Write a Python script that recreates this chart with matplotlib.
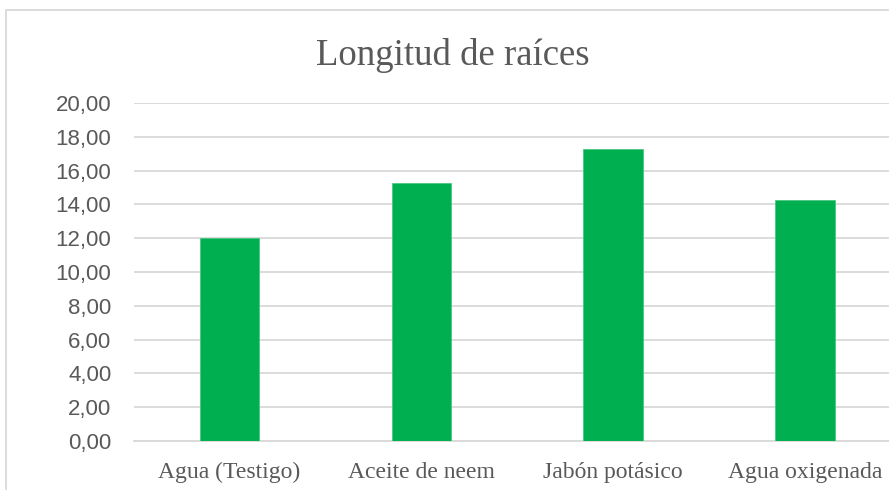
import matplotlib.pyplot as plt
from matplotlib.patches import Rectangle

categorias = ['Agua (Testigo)', 'Aceite de neem', 'Jabón potásico', 'Agua oxigenada']
longitud = [12.00, 15.25, 17.28, 14.25]
yticks = [0, 2, 4, 6, 8, 10, 12, 14, 16, 18, 20]

gris = '#595959'
linea = '#d9d9d9'
verde = '#00b050'

fig = plt.figure(figsize=(8.89, 4.90), dpi=100)

# borde del gráfico (recortado a la derecha y abajo)
fig.patches.append(Rectangle((6 / 889, -0.2), 1.2, 1.2 - 10 / 490,
                             transform=fig.transFigure, fill=False,
                             edgecolor=linea, linewidth=1.3))

ax = fig.add_axes([133.5 / 889, 49 / 490, 767.5 / 889, 338 / 490])
x = range(len(categorias))
ax.bar(x, longitud, width=0.31, color=verde, edgecolor='#3fc47a', linewidth=0.5, zorder=3)

ax.set_xlim(-0.5, 3.5)
ax.set_ylim(0, 20)
ax.set_yticks(yticks)
ax.set_yticklabels([f'{v:.2f}'.replace('.', ',') for v in yticks],
                   family='Liberation Sans', fontsize=16, color=gris)
ax.set_xticks(list(x))
ax.set_xticklabels(categorias, family='Liberation Serif', fontsize=17, color=gris)
ax.tick_params(axis='both', length=0)
ax.tick_params(axis='y', pad=16)
ax.tick_params(axis='x', pad=15)
ax.grid(axis='y', color=linea, linewidth=1.3, zorder=0)
for s in ['top', 'right', 'left']:
    ax.spines[s].set_visible(False)
ax.spines['bottom'].set_color(linea)
ax.spines['bottom'].set_linewidth(1.3)

fig.text(453 / 889, 1 - 65 / 490, 'Longitud de raíces', ha='center', va='baseline',
         family='Liberation Serif', fontsize=26.5, color=gris)

fig.savefig('out.png', dpi=100)
